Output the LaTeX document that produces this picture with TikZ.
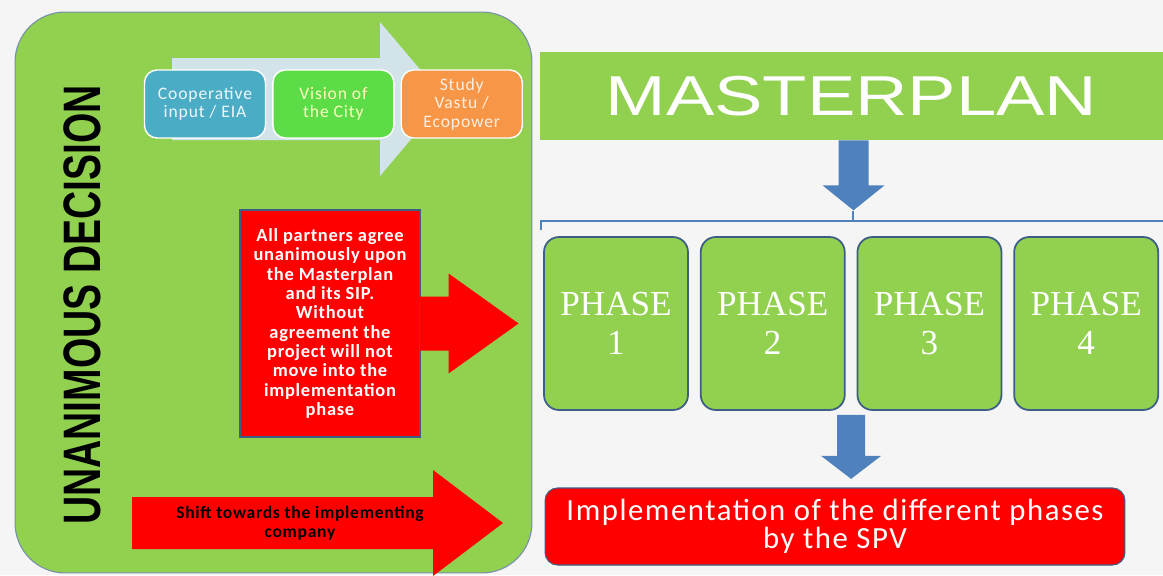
\documentclass[tikz,border=0pt]{standalone}
\usepackage{fontspec}
\setmainfont{Liberation Serif}
\setsansfont{Liberation Sans}
\newfontfamily\smartfont[LetterSpace=5]{Carlito}
\newfontfamily\widefont[LetterSpace=4]{Carlito}
\usepackage{graphicx}
\usetikzlibrary{positioning, calc}

\definecolor{leafgreen}{HTML}{92D050}
\definecolor{limegreen}{HTML}{5CDC46}
\definecolor{tealblue}{HTML}{4BACC6}
\definecolor{softorange}{HTML}{F79646}
\definecolor{paleblue}{HTML}{D3E3EA}
\definecolor{steelblue}{HTML}{4F81BD}
\definecolor{edgeblue}{HTML}{3D5E86}
\definecolor{alarmred}{HTML}{FF0000}
\definecolor{paper}{HTML}{F5F5F5}

\begin{document}
\begin{tikzpicture}[x=0.02cm, y=-0.02cm,
    panel/.style = {fill = leafgreen, draw = edgeblue!70, line width = 0.6pt, rounded corners = 1cm, minimum width = 10.34cm, minimum height = 11.22cm},
    flowbox/.style = {draw = white, line width = 0.8pt, rounded corners = 0.25cm, minimum width = 2.42cm, minimum height = 1.36cm, align = center, font = \smartfont\fontsize{10}{10.5}\selectfont},
    redbox/.style = {fill = alarmred, draw = edgeblue, line width = 0.6pt, text = white, align = center},
    phasebox/.style = {fill = leafgreen, draw = edgeblue, line width = 1pt, rounded corners = 0.3cm, minimum width = 2.88cm, minimum height = 3.46cm, text = white, align = center, font = \fontsize{20}{22}\selectfont},
    node distance = 0.12cm]
  \fill[paper] (0,0) rectangle (1163,575);
  \useasboundingbox (0,0) rectangle (1163,575);

  % left panel
  \node[panel] (panel) at (273.5,292.5) {};
  \node[rotate = 90, font = \sffamily\bfseries\fontsize{30}{30}\selectfont] (title) at (82,305) {\scalebox{0.74}[1]{UNANIMOUS DECISION}};
  \fill[paleblue] (172,58) -- (380,58) -- (380,22) -- (445,99) -- (380,176) -- (380,140) -- (172,140) -- cycle;
  \node[flowbox, fill = tealblue, text = white!90!tealblue] (coop) at (205,104) {Cooperative\\input / EIA};
  \node[flowbox, fill = limegreen, text = yellow!25, right = of coop] (vision) {Vision of\\the City};
  \node[flowbox, fill = softorange, text = white!85!softorange, right = of vision] (study) {Study\\Vastu /\\Ecopower};

  \node[redbox, minimum width = 3.6cm, minimum height = 4.54cm, font = \widefont\bfseries\fontsize{10.5}{11}\selectfont] (consent) at (330,323.5)
    {All partners agree\\unanimously upon\\the Masterplan\\and its SIP.\\Without\\agreement the\\project will not\\move into the\\implementation\\phase};
  \fill[alarmred] (consent.east) ++(-1,-27) -- ++(29,0) -- ++(0,-23) -- ++(70,50) -- ++(-70,50) -- ++(0,-23) -- ++(-29,0) -- cycle;

  \fill[alarmred] (132,497) -- (433,497) -- (433,470) -- (503,523) -- (433,576) -- (433,549) -- (132,549) -- cycle;
  \node[align = center, font = \widefont\bfseries\fontsize{10}{10.5}\selectfont] (shift) at (300,523) {Shift towards the implementing\\company};

  % right side
  \node[fill = leafgreen, minimum width = 12.46cm, minimum height = 1.76cm, text = white, font = \sffamily\fontsize{32}{32}\selectfont] (plan) at (851.5,96) {\scalebox{1.29}[1]{MASTERPLAN}};
  \coordinate (brace) at (853,221);
  \fill[steelblue] (plan.south) ++(-13,0) -- ++(0,45) -- ++(-16,0) -- ++(31,25) -- ++(31,-25) -- ++(-16,0) -- ++(0,-45) -- cycle;
  \draw[steelblue, line width = 1.3pt] (541,230) -- (541,221) -- (1163,221);
  \draw[steelblue, line width = 1.3pt] (brace) -- ++(0,-10);

  \node[phasebox] (phase1) at (616,323.5) {PHASE\\1};
  \node[phasebox, right = 0.22cm of phase1] (phase2) {PHASE\\2};
  \node[phasebox, right = 0.22cm of phase2] (phase3) {PHASE\\3};
  \node[phasebox, right = 0.22cm of phase3] (phase4) {PHASE\\4};

  \node[redbox, rounded corners = 0.25cm, minimum width = 11.6cm, minimum height = 1.54cm, font = \smartfont\fontsize{17.5}{16}\selectfont] (impl) at (835,526.5)
    {Implementation of the different phases\\by the SPV};
  \coordinate (gap) at ($(phase2.south east)!0.5!(phase3.south west)$);
  \fill[steelblue] (gap) ++(-14,4) -- ++(0,41) -- ++(-16,0) -- ++(30,23) -- ++(30,-23) -- ++(-16,0) -- ++(0,-41) -- cycle;
\end{tikzpicture}
\end{document}
